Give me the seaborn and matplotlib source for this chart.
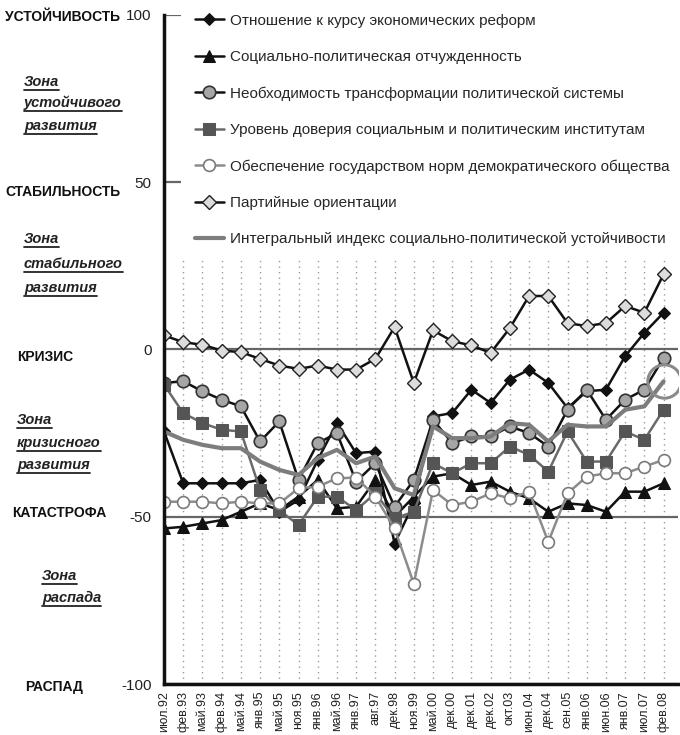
import numpy as np
import matplotlib
matplotlib.use("Agg")
import matplotlib.pyplot as plt
import seaborn as sns
from matplotlib.lines import Line2D

# периоды опросов
periods = ["июл.92", "фев.93", "май.93", "фев.94", "май.94", "янв.95", "май.95",
           "ноя.95", "янв.96", "май.96", "янв.97", "авг.97", "дек.98", "ноя.99",
           "май.00", "дек.00", "дек.01", "дек.02", "окт.03", "июн.04", "дек.04",
           "сен.05", "янв.06", "июн.06", "янв.07", "июл.07", "фев.08"]

econ = [-24.5, -40, -40, -40, -40, -39, -48.5, -45, -33, -22, -31, -30.5, -58, -46,
        -20, -19, -12, -16, -9, -6, -10, -17.5, -12.5, -12, -2, 5, 11]
alien = [-53.5, -53, -52, -51, -48.5, -46, -48, -44, -39, -47.5, -47, -39, -50, -44,
         -38, -37, -40.5, -39.5, -42.5, -44.5, -48.5, -46, -46.5, -48.5, -42.5, -42.5, -40]
transf = [-10, -9.5, -12.5, -15, -17, -27.5, -21.5, -39, -28, -25, -39.5, -34, -47, -39,
          -21, -28, -26, -26, -23, -25, -29, -18, -12, -21, -15, -12, -2.5]
trust = [-10.5, -19, -22, -24, -24.5, -42, -48, -52.5, -44, -44, -48, -43, -50.5, -48.5,
         -34, -37, -34, -34, -29, -31.5, -36.5, -24.5, -33.5, -33.5, -24.5, -27, -18]
democ = [-45.5, -45.5, -45.5, -46, -45.5, -46, -46, -41.5, -41, -38.5, -38.3, -44, -53.5, -70,
         -42, -46.5, -45.5, -43, -44.5, -42.5, -57.5, -43, -38, -37, -37, -35, -33]
party = [4.2, 2.2, 1.4, -0.3, -0.8, -2.8, -4.8, -5.8, -4.8, -6, -6, -2.8, 6.7, -10,
         5.7, 2.5, 1.2, -1, 6.4, 16, 16, 7.9, 7, 7.9, 13, 11, 22.5]
integral = [-24.5, -27, -28.5, -29.5, -29.5, -33.5, -36, -37.5, -32.5, -30, -34, -32, -41.5, -43.5,
            -23, -26.5, -26.5, -26, -22, -22.5, -27.5, -22.5, -23, -23, -18, -17, -9.5]

labels = ["Отношение к курсу экономических реформ",
          "Социально-политическая отчужденность",
          "Необходимость трансформации политической системы",
          "Уровень доверия социальным и политическим институтам",
          "Обеспечение государством норм демократического общества",
          "Партийные ориентации",
          "Интегральный индекс социально-политической устойчивости"]

sns.set_style("white")
plt.rcParams["font.family"] = ["Liberation Sans", "DejaVu Sans"]
plt.rcParams["axes.unicode_minus"] = False

W, H = 680, 735
fig = plt.figure(figsize=(W / 100, H / 100), dpi=100)
ax = fig.add_axes([164 / W, 1 - 684 / H, (678 - 164) / W, (684 - 15) / H])

x = np.arange(len(periods))
series = [
    (econ, dict(color="#111111", lw=1.8, marker="D", ms=6, mfc="#111111", mec="#111111")),
    (alien, dict(color="#111111", lw=1.8, marker="^", ms=8, mfc="#111111", mec="#111111")),
    (transf, dict(color="#111111", lw=1.8, marker="o", ms=9, mfc="#a6a6a6", mec="#333333", mew=1.2)),
    (trust, dict(color="#6a6a6a", lw=1.8, marker="s", ms=9, mfc="#555555", mec="#555555")),
    (democ, dict(color="#8c8c8c", lw=1.8, marker="o", ms=8.5, mfc="white", mec="#7a7a7a", mew=1.2)),
    (party, dict(color="#111111", lw=1.8, marker="D", ms=7, mfc="#dcdcdc", mec="#222222", mew=1)),
    (integral, dict(color="#7d7d7d", lw=3, marker=None)),
]
for (vals, kw), lab in zip(series, labels):
    sns.lineplot(x=x, y=vals, ax=ax, label=lab, **kw)

# выделение последней точки интегрального индекса
ax.plot(x[-1], integral[-1], marker="o", ms=24, mfc="none", mec="#8a8a8a", mew=2.2,
        zorder=5, label="_nolegend_")

ax.set_xlim(0, 26.75)
ax.set_ylim(-100, 100)
ax.set_yticks([-100, -50, 0, 50, 100])
ax.set_xticks(x)
ax.set_xticklabels(periods, rotation=90)
ax.set_xlabel("")
ax.set_ylabel("")

ax.yaxis.grid(True, color="#666666", lw=1.6)
ax.xaxis.grid(True, color="#9a9a9a", lw=1, ls=(0, (1, 3)))
ax.set_axisbelow(True)

for s in ["top", "right"]:
    ax.spines[s].set_visible(False)
for s in ["left", "bottom"]:
    ax.spines[s].set_linewidth(2.5)
    ax.spines[s].set_color("#111111")
    ax.spines[s].set_zorder(6)

ax.tick_params(axis="y", direction="inout", length=12, width=2, labelsize=11,
               pad=3, colors="#111111", labelcolor="#222222")
ax.tick_params(axis="x", direction="inout", length=8, width=2, labelsize=9,
               pad=1, colors="#111111", labelcolor="#222222")

ax.get_legend().remove()
handles, labs = ax.get_legend_handles_labels()
fig.legend(handles, labs, loc="upper left", bbox_to_anchor=(181 / W, 0, (W - 181) / W, 1),
           mode="expand", borderaxespad=0, fontsize=11, labelspacing=1.46,
           handlelength=1.9, handletextpad=0.4, borderpad=0.9,
           frameon=True, facecolor="white", edgecolor="none", framealpha=1, fancybox=False)


def px(xp, yp):
    return xp / W, 1 - yp / H


# уровни устойчивости слева
for txt, xp, yp in [("УСТОЙЧИВОСТЬ", 5, 17), ("СТАБИЛЬНОСТЬ", 5, 192), ("КРИЗИС", 17, 357),
                    ("КАТАСТРОФА", 12, 513), ("РАСПАД", 25, 687)]:
    fig.text(*px(xp, yp), txt, ha="left", va="center", fontsize=10, fontweight="bold",
             color="#111111")

# зоны (курсив, подчёркнуто)
zones = [(24, [("Зона", 82), ("устойчивого", 103), ("развития", 126)]),
         (24, [("Зона", 239), ("стабильного", 264), ("развития", 288)]),
         (17, [("Зона", 420), ("кризисного", 443), ("развития", 465)]),
         (42, [("Зона", 576), ("распада", 598)])]
zone_texts = []
for xp, lines in zones:
    for txt, yp in lines:
        t = fig.text(*px(xp, yp), txt, ha="left", va="center", fontsize=10.5,
                     fontweight="bold", fontstyle="italic", color="#222222")
        zone_texts.append(t)

fig.canvas.draw()
r = fig.canvas.get_renderer()
for t in zone_texts:
    bb = t.get_window_extent(r)
    yl = (bb.y0 - 1) / H
    fig.add_artist(Line2D([bb.x0 / W, bb.x1 / W], [yl, yl], transform=fig.transFigure,
                          color="#222222", lw=1.3))

fig.savefig("out.png", dpi=100)
